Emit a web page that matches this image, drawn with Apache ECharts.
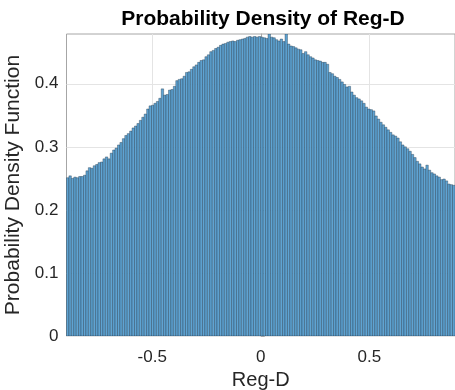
<!DOCTYPE html>
<html>
<head>
<meta charset="utf-8">
<script src="https://cdn.jsdelivr.net/npm/echarts@6/dist/echarts.min.js"></script>
<style>html,body{margin:0;padding:0;background:#fff}#c{width:455px;height:390px}</style>
</head>
<body>
<div id="c"></div>
<script>
// Histogram: 160 bins spanning the data range
const binStart = -0.895;
const binEnd = 0.895;
const density = [
0.251,0.254,0.250,0.252,0.251,0.253,0.253,0.255,0.262,0.267,
0.266,0.270,0.272,0.275,0.276,0.281,0.284,0.281,0.290,0.295,
0.298,0.303,0.307,0.313,0.318,0.321,0.325,0.330,0.333,0.337,
0.342,0.347,0.352,0.360,0.365,0.366,0.369,0.372,0.377,0.392,
0.382,0.383,0.390,0.391,0.396,0.405,0.407,0.408,0.412,0.418,
0.419,0.423,0.427,0.430,0.434,0.437,0.438,0.443,0.446,0.451,
0.453,0.456,0.458,0.461,0.463,0.464,0.466,0.467,0.468,0.467,
0.469,0.470,0.471,0.472,0.474,0.475,0.474,0.475,0.474,0.475,
0.474,0.473,0.472,0.479,0.474,0.473,0.470,0.468,0.471,0.467,
0.479,0.463,0.460,0.459,0.457,0.455,0.454,0.448,0.451,0.446,
0.443,0.441,0.438,0.437,0.436,0.434,0.434,0.431,0.418,0.416,
0.412,0.410,0.407,0.403,0.399,0.395,0.396,0.387,0.382,0.378,
0.376,0.373,0.369,0.363,0.360,0.359,0.357,0.349,0.344,0.339,
0.335,0.331,0.327,0.323,0.319,0.317,0.314,0.308,0.303,0.300,
0.297,0.293,0.288,0.283,0.277,0.273,0.268,0.265,0.271,0.263,
0.259,0.257,0.254,0.252,0.248,0.249,0.246,0.241,0.240,0.239
];
const xTicks = [-0.5, 0, 0.5];
const yTicks = [0, 0.1, 0.2, 0.3, 0.4];
const yMax = 0.479;
const titleText = 'Probability Density of Reg-D';
const xName = 'Reg-D';
const yName = 'Probability Density Function';

const binW = (binEnd - binStart) / density.length;
const data = density.map((v, i) => [binStart + i * binW, binStart + (i + 1) * binW, v]);
const FONT = '"Liberation Sans", Arial, Helvetica, sans-serif';

const chart = echarts.init(document.getElementById('c'), null, {renderer: 'canvas'});
chart.setOption({
  animation: false,
  backgroundColor: '#ffffff',
  title: {
    text: titleText,
    left: 258, top: 4, textAlign: 'center',
    textStyle: {fontFamily: FONT, fontSize: 21, fontWeight: 'bold', color: '#000'}
  },
  grid: {
    left: 66.5, top: 34, right: 0, bottom: 54,
    containLabel: false, outerBoundsMode: 'none',
    show: true, borderColor: '#a6a6a6', borderWidth: 1, backgroundColor: 'transparent'
  },
  xAxis: {
    type: 'value', min: binStart, max: binEnd,
    name: xName, nameLocation: 'middle', nameGap: 32,
    nameTextStyle: {fontFamily: FONT, fontSize: 20, color: '#262626'},
    axisLine: {show: false},
    axisTick: {show: false, customValues: xTicks},
    splitLine: {show: true, lineStyle: {color: '#e4e4e4', width: 1}},
    axisLabel: {
      fontFamily: FONT, fontSize: 17, color: '#262626', margin: 13,
      customValues: xTicks,
      formatter: v => String(v)
    }
  },
  yAxis: {
    type: 'value', min: 0, max: yMax,
    name: yName, nameLocation: 'middle', nameGap: 35,
    nameTextStyle: {fontFamily: FONT, fontSize: 21, color: '#262626'},
    axisLine: {show: true, lineStyle: {color: '#a6a6a6'}},
    axisTick: {show: true, inside: true, length: 4, customValues: yTicks, lineStyle: {color: '#a6a6a6'}},
    splitLine: {show: true, lineStyle: {color: '#e4e4e4', width: 1}},
    axisLabel: {
      fontFamily: FONT, fontSize: 17, color: '#262626', margin: 8,
      customValues: yTicks,
      formatter: v => String(v)
    }
  },
  series: [{
    type: 'custom',
    data: data,
    encode: {x: [0, 1], y: 2},
    clip: true,
    renderItem: (params, api) => {
      const p0 = api.coord([api.value(0), api.value(2)]);
      const p1 = api.coord([api.value(1), 0]);
      return {
        type: 'rect',
        shape: {x: p0[0], y: p0[1], width: p1[0] - p0[0], height: p1[1] - p0[1]},
        style: {fill: '#5fa4d3', stroke: 'rgba(25,45,65,0.75)', lineWidth: 0.5}
      };
    }
  }]
});
</script>
</body>
</html>
